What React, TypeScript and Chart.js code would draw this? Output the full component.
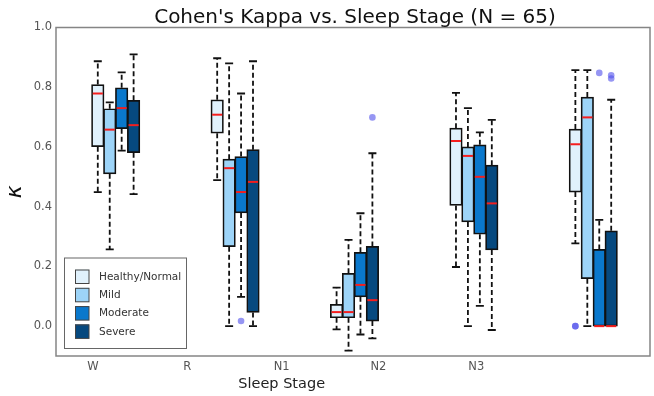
import React, { useEffect, useRef } from "react";
import { Chart, registerables } from "chart.js";

Chart.register(...registerables);

// ---- data ----
const stages = ["W", "R", "N1", "N2", "N3"];
// the tick labels of the original sit at these x values (not under the box groups)
const stageTickValues = [0.96, 1.75, 2.54, 3.35, 4.17];
const seriesNames = ["Healthy/Normal", "Mild", "Moderate", "Severe"];
const yTickValues = [0.0, 0.2, 0.4, 0.6, 0.8, 1.0];

// per stage: [whisker low, Q1, median, Q3, whisker high]
const healthyStats = [
  [0.449, 0.601, 0.779, 0.809, 0.887],
  [0.489, 0.646, 0.708, 0.758, 0.897],
  [-0.011, 0.028, 0.047, 0.073, 0.129],
  [0.198, 0.404, 0.62, 0.663, 0.781],
  [0.277, 0.449, 0.609, 0.66, 0.857],
];
const mildStats = [
  [0.257, 0.51, 0.658, 0.728, 0.749],
  [0.0, 0.266, 0.529, 0.559, 0.88],
  [-0.082, 0.028, 0.047, 0.177, 0.289],
  [0.0, 0.349, 0.57, 0.6, 0.73],
  [0.0, 0.159, 0.699, 0.767, 0.857],
];
const moderateStats = [
  [0.588, 0.661, 0.73, 0.798, 0.85],
  [0.098, 0.379, 0.449, 0.568, 0.779],
  [-0.028, 0.098, 0.138, 0.247, 0.378],
  [0.068, 0.308, 0.5, 0.607, 0.649],
  [0.0, 0.0, 0.0, 0.257, 0.356],
];
const severeStats = [
  [0.442, 0.581, 0.673, 0.756, 0.91],
  [0.0, 0.046, 0.483, 0.591, 0.887],
  [-0.041, 0.017, 0.087, 0.267, 0.579],
  [-0.013, 0.255, 0.411, 0.539, 0.691],
  [0.0, 0.0, 0.0, 0.319, 0.758],
];
// outliers: [stage index, series index, value]
const outliers = [
  [1, 2, 0.017],
  [2, 3, 0.699],
  [4, 0, 0.0],
  [4, 0, 0.0],
  [4, 2, 0.848],
  [4, 3, 0.84],
  [4, 3, 0.829],
];

// ---- styling / layout ----
const allStats = [healthyStats, mildStats, moderateStats, severeStats];
const seriesColors = ["#E0F1FC", "#9DD4F8", "#0A78CC", "#06497F"];
const GROUP_START = 1;
const BOX_STEP = 0.1;
const boxPos = (g: number, s: number) => GROUP_START + g + s * BOX_STEP;
const FONT = '"DejaVu Sans", sans-serif';

const decorPlugin = {
  id: "decor",
  afterDatasetsDraw(chart: any) {
    const { ctx } = chart;
    const xs = chart.scales.x;
    const ys = chart.scales.y;
    ctx.save();
    allStats.forEach((stats, s) => {
      const meta = chart.getDatasetMeta(s);
      stats.forEach((st, g) => {
        const bar = meta.data[g];
        const cx = xs.getPixelForValue(boxPos(g, s));
        const half = bar ? bar.width / 2 : 6;
        const pLow = ys.getPixelForValue(st[0]);
        const pQ1 = ys.getPixelForValue(st[1]);
        const pMed = ys.getPixelForValue(st[2]);
        const pQ3 = ys.getPixelForValue(st[3]);
        const pHigh = ys.getPixelForValue(st[4]);
        // whiskers
        ctx.strokeStyle = "#111";
        ctx.lineWidth = 1.8;
        ctx.setLineDash([5, 3]);
        ctx.beginPath();
        ctx.moveTo(cx, pQ3);
        ctx.lineTo(cx, pHigh);
        ctx.moveTo(cx, pQ1);
        ctx.lineTo(cx, pLow);
        ctx.stroke();
        // caps
        ctx.setLineDash([]);
        ctx.beginPath();
        ctx.moveTo(cx - 4, pHigh);
        ctx.lineTo(cx + 4, pHigh);
        ctx.moveTo(cx - 4, pLow);
        ctx.lineTo(cx + 4, pLow);
        ctx.stroke();
        // median
        ctx.strokeStyle = "#F51E1E";
        ctx.lineWidth = 2;
        ctx.beginPath();
        ctx.moveTo(cx - half + 1.2, pMed);
        ctx.lineTo(cx + half - 1.2, pMed);
        ctx.stroke();
      });
    });
    ctx.restore();
  },
  afterDraw(chart: any) {
    const { ctx, chartArea } = chart;
    const xs = chart.scales.x;
    ctx.save();
    // frame
    ctx.strokeStyle = "#858585";
    ctx.lineWidth = 1.5;
    ctx.strokeRect(chartArea.left, chartArea.top, chartArea.right - chartArea.left, chartArea.bottom - chartArea.top);
    // title
    ctx.fillStyle = "#111";
    ctx.font = `20px ${FONT}`;
    ctx.textAlign = "center";
    ctx.textBaseline = "alphabetic";
    ctx.fillText("Cohen's Kappa vs. Sleep Stage (N = 65)", (chartArea.left + chartArea.right) / 2 + 2, 23);
    // x title (centred under middle tick, as in the original)
    ctx.font = `14.5px ${FONT}`;
    ctx.fillStyle = "#222";
    const midTick = stageTickValues[Math.floor(stageTickValues.length / 2)];
    ctx.fillText("Sleep Stage", xs.getPixelForValue(midTick), 387.5);
    // legend
    const lx = 64, ly = 257.5, lw = 122, lh = 90.5;
    ctx.fillStyle = "#fff";
    ctx.fillRect(lx, ly, lw, lh);
    ctx.strokeStyle = "#666";
    ctx.lineWidth = 1;
    ctx.strokeRect(lx + 0.5, ly + 0.5, lw, lh);
    ctx.font = `10.5px ${FONT}`;
    ctx.textAlign = "left";
    ctx.textBaseline = "middle";
    seriesNames.forEach((name, i) => {
      const sy = 269.5 + i * 18.3;
      ctx.fillStyle = seriesColors[i];
      ctx.fillRect(75, sy, 14, 14);
      ctx.strokeStyle = "#444";
      ctx.strokeRect(75.5, sy + 0.5, 13.5, 13.5);
      ctx.fillStyle = "#333";
      ctx.fillText(name, 99, sy + 7.5);
    });
    ctx.restore();
  },
};

export default function App() {
  const canvasRef = useRef<HTMLCanvasElement | null>(null);

  useEffect(() => {
    document.body.style.margin = "0";
    const canvas = canvasRef.current;
    if (!canvas) return;

    const barDatasets = allStats.map((stats, s) => ({
      type: "bar" as const,
      label: seriesNames[s],
      data: stats.map((st, g) => ({ x: boxPos(g, s), y: [st[1], st[3]] })),
      backgroundColor: seriesColors[s],
      borderColor: "#111",
      borderWidth: 1.7,
      borderSkipped: false,
      barThickness: 12.5,
      grouped: false,
    }));

    const outlierDataset = {
      type: "scatter" as const,
      label: "outliers",
      data: outliers.map(([g, s, v]) => ({ x: boxPos(g, s), y: v })),
      backgroundColor: "rgba(80,80,235,0.6)",
      borderWidth: 0,
      pointRadius: 3.3,
    };

    const chart = new Chart(canvas, {
      type: "bar",
      data: { datasets: [...barDatasets, outlierDataset] as any },
      options: {
        responsive: false,
        animation: false,
        layout: { padding: { top: 27.5, right: 1, left: 0, bottom: 0 } },
        plugins: { legend: { display: false }, tooltip: { enabled: false }, title: { display: false } },
        scales: {
          x: {
            type: "linear",
            min: 0.65,
            max: 5.625,
            offset: false,
            grid: { display: false, drawTicks: false },
            border: { display: false },
            afterBuildTicks: (scale: any) => {
              scale.ticks = stageTickValues.map((v) => ({ value: v }));
            },
            afterFit: (scale: any) => {
              scale.height = 40;
            },
            ticks: {
              autoSkip: false,
              maxRotation: 0,
              padding: 4,
              color: "#555",
              font: { family: FONT, size: 11.5 },
              callback: (_v: any, i: number) => stages[i],
            },
          },
          y: {
            type: "linear",
            min: -0.1,
            max: 1.0,
            grid: { display: false, drawTicks: false },
            border: { display: false },
            afterBuildTicks: (scale: any) => {
              scale.ticks = yTickValues.map((v) => ({ value: v }));
            },
            afterFit: (scale: any) => {
              scale.width = 56;
            },
            ticks: {
              padding: 4,
              color: "#555",
              font: { family: FONT, size: 11.5 },
              callback: (v: any) => Number(v).toFixed(1),
            },
            title: {
              display: true,
              text: "κ",
              color: "#111",
              font: { family: FONT, size: 22, style: "italic" },
              padding: { top: 2, bottom: 2 },
            },
          },
        },
      },
      plugins: [decorPlugin],
    });

    return () => chart.destroy();
  }, []);

  return (
    <div style={{ position: "absolute", left: 0, top: 0, width: 654, height: 396 }}>
      <canvas ref={canvasRef} width={654} height={396} style={{ display: "block" }} />
    </div>
  );
}
